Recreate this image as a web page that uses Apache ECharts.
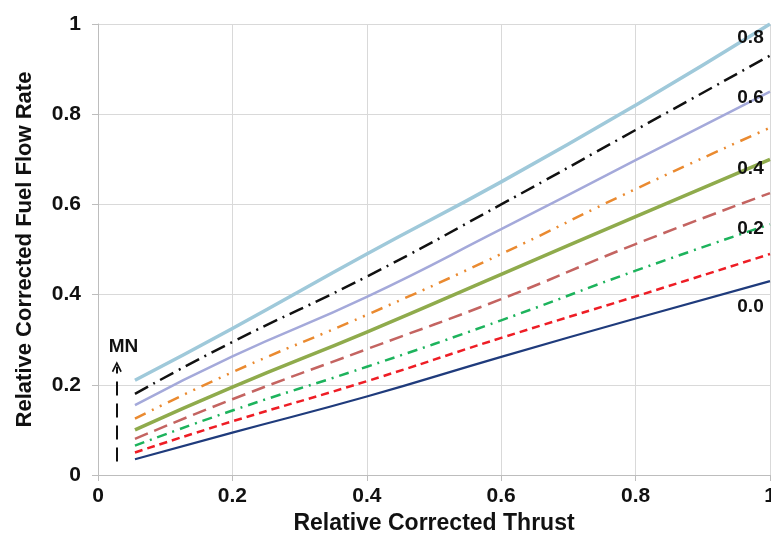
<!DOCTYPE html>
<html>
<head>
<meta charset="utf-8">
<script src="https://cdn.jsdelivr.net/npm/echarts@6/dist/echarts.min.js"></script>
<style>
  html, body { margin: 0; padding: 0; background: #fff; }
  #chart { width: 771px; height: 537px; }
</style>
</head>
<body>
<div id="chart"></div>
<script>
var thrust = [0.055, 0.2, 0.4, 0.6, 0.8, 1.0];

// fuel flow for each Mach number
var mn00 = [0.035, 0.094, 0.174, 0.262, 0.347, 0.430];
var mn01 = [0.050, 0.119, 0.208, 0.304, 0.396, 0.490];
var mn02 = [0.065, 0.143, 0.240, 0.343, 0.453, 0.556];
var mn03 = [0.080, 0.168, 0.279, 0.390, 0.512, 0.625];
var mn04 = [0.100, 0.195, 0.317, 0.445, 0.573, 0.700];
var mn05 = [0.125, 0.228, 0.355, 0.490, 0.634, 0.770];
var mn06 = [0.155, 0.263, 0.395, 0.545, 0.698, 0.850];
var mn07 = [0.180, 0.295, 0.440, 0.600, 0.765, 0.930];
var mn08 = [0.210, 0.325, 0.490, 0.650, 0.820, 1.000];

var curveLabels = ['0.8', '0.6', '0.4', '0.2', '0.0'];
var curveLabelPos = [[0.971, 0.969], [0.971, 0.836], [0.971, 0.678], [0.971, 0.545], [0.971, 0.372]];

var font = 'Arial, "Liberation Sans", sans-serif';

function pairs(ys) {
  var out = [];
  for (var i = 0; i < thrust.length; i++) out.push([thrust[i], ys[i]]);
  return out;
}

function curve(name, ys, color, width, type) {
  return {
    name: name,
    type: 'line',
    data: pairs(ys),
    smooth: true,
    symbol: 'none',
    lineStyle: { color: color, width: width, type: type }
  };
}

var series = [
  curve('0.0', mn00, '#1f3b7c', 2.2, 'solid'),
  curve('0.1', mn01, '#ee1d25', 2.5, [8, 5]),
  curve('0.2', mn02, '#1db35c', 2.5, [10, 6, 2, 6]),
  curve('0.3', mn03, '#c46461', 2.5, [14, 7]),
  curve('0.4', mn04, '#8fab4c', 3.5, 'solid'),
  curve('0.5', mn05, '#ea8a30', 2.5, [12, 7, 2, 7, 2, 7]),
  curve('0.6', mn06, '#a4a9da', 2.5, 'solid'),
  curve('0.7', mn07, '#111111', 2.5, [15, 6, 2, 6]),
  curve('0.8', mn08, '#9fc9da', 3.5, 'solid'),
  {
    type: 'scatter',
    symbol: 'circle',
    symbolSize: 1,
    silent: true,
    z: 5,
    itemStyle: { color: 'rgba(0,0,0,0)', opacity: 1 },
    data: curveLabelPos.map(function (p, i) { return { value: p, name: curveLabels[i] }; }),
    label: {
      show: true,
      position: 'inside',
      formatter: '{b}',
      color: '#111',
      opacity: 1,
      fontFamily: font,
      fontWeight: 'bold',
      fontSize: 19
    },
    markLine: {
      silent: true,
      symbol: ['none', 'path://M0,9 L5,0 L10,9 L8.6,10 L5,3.4 L1.4,10 Z'],
      symbolSize: [10, 11],
      label: { show: false },
      lineStyle: { color: '#111', width: 2, type: [14, 8] },
      data: [[{ coord: [0.028, 0.03] }, { coord: [0.028, 0.24] }]]
    },
    markPoint: {
      silent: true,
      symbol: 'rect',
      symbolSize: 1,
      itemStyle: { color: 'rgba(0,0,0,0)', opacity: 1 },
      label: {
        show: true,
        formatter: 'MN',
        color: '#111',
        fontFamily: font,
        fontWeight: 'bold',
        fontSize: 19
      },
      data: [{ coord: [0.038, 0.284] }]
    }
  }
];

var axisLabel = { color: '#111', fontFamily: font, fontWeight: 'bold', fontSize: 21 };

var option = {
  backgroundColor: '#fff',
  animation: false,
  grid: { left: 98, right: 1, top: 24, bottom: 62, containLabel: false, outerBoundsMode: 'none' },
  xAxis: {
    type: 'value',
    min: 0, max: 1, interval: 0.2,
    name: 'Relative Corrected Thrust',
    nameLocation: 'middle',
    nameGap: 37,
    nameTextStyle: { color: '#111', fontFamily: font, fontWeight: 'bold', fontSize: 23 },
    axisLine: { show: true, lineStyle: { color: '#bdbdbd', width: 1 } },
    axisTick: { show: true, length: 6, lineStyle: { color: '#bdbdbd' } },
    axisLabel: Object.assign({ margin: 11, hideOverlap: false }, axisLabel),
    splitLine: { show: true, lineStyle: { color: '#d9d9d9' } }
  },
  yAxis: {
    type: 'value',
    min: 0, max: 1, interval: 0.2,
    name: 'Relative Corrected Fuel Flow Rate',
    nameLocation: 'middle',
    nameGap: 62,
    nameTextStyle: { color: '#111', fontFamily: font, fontWeight: 'bold', fontSize: 22 },
    axisLine: { show: true, lineStyle: { color: '#bdbdbd', width: 1 } },
    axisTick: { show: true, length: 6, lineStyle: { color: '#bdbdbd' } },
    axisLabel: Object.assign({ margin: 17 }, axisLabel),
    splitLine: { show: true, lineStyle: { color: '#d9d9d9' } }
  },
  series: series
};

var mychart = echarts.init(document.getElementById('chart'));
mychart.setOption(option);
</script>
</body>
</html>
